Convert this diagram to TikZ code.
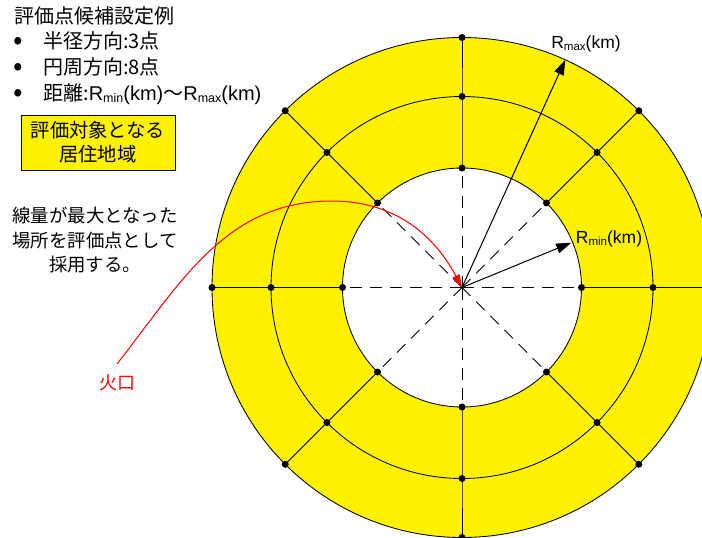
\documentclass[tikz,border=0pt]{standalone}
\usepackage{fontspec}
\setmainfont{Noto Sans CJK JP}
\newfontfamily\latfont{Liberation Sans}
\usetikzlibrary{arrows.meta,calc}
\newcommand\Rlab[1]{{\latfont R\raisebox{-2pt}{\fontsize{11.5}{12}\selectfont #1}(km)}}
\newcommand\Rlabb[1]{{\latfont R\raisebox{-2pt}{\fontsize{12.5}{13}\selectfont #1}(km)}}
\newcommand\bul{\makebox[29pt][l]{\hspace{-1pt}{\fontsize{28}{20}\selectfont\raisebox{-1pt}{•}}}}
\begin{document}
\begin{tikzpicture}[x=1pt,y=1pt,
  ring/.style={line width=0.85pt},
  spoke/.style={line width=0.85pt},
  dashspoke/.style={line width=0.85pt, dash pattern=on 12pt off 8pt},
  dot/.style={circle, fill=black, inner sep=0pt, minimum size=7pt},
  jtext/.style={font=\fontsize{20}{24}\selectfont, inner sep=0pt},
  rlabel/.style={font=\fontsize{17.5}{20}\selectfont, inner sep=0pt},
  radarrow/.style={line width=1pt, -{Triangle[length=15pt,width=10pt]}},
  redarrow/.style={red, line width=1pt, -{Triangle[length=13pt,width=8pt]}}
]
\useasboundingbox (0,0) rectangle (702,-538);
\clip (0,0) rectangle (702,-538);
\coordinate (C) at (462,-287.5);
\fill[yellow] (C) circle (250);
\fill[white] (C) circle (119.5);
\foreach \r in {250,191,119.5} \draw[ring] (C) circle (\r);
\foreach \a in {0,45,...,315} {
  \coordinate (i\a) at ($(C)+(\a:119.5)$);
  \coordinate (m\a) at ($(C)+(\a:191)$);
  \coordinate (o\a) at ($(C)+(\a:250)$);
  \draw[spoke] (i\a) -- (m\a) -- (o\a);
  \draw[dashspoke] (C) -- (i\a);
  \node[dot] (di\a) at (i\a) {};
  \node[dot] (dm\a) at (m\a) {};
  \node[dot] (do\a) at (o\a) {};
}
% radius arrows
\coordinate (rmaxtip) at ($(C)+(65.6:250)$);
\coordinate (rmintip) at ($(C)+(22.3:118)$);
\draw[radarrow] (C) -- (rmaxtip);
\draw[radarrow] (C) -- (rmintip);
\node[rlabel] (rmaxlab) at (586,-44) {\Rlab{max}};
\node[rlabel] (rminlab) at (609,-239) {\Rlab{min}};
% texts
\node[jtext, anchor=west] (title) at (14,-16) {評価点候補設定例};
\node[jtext, anchor=west] (item1) at (14,-41) {\bul 半径方向:3点};
\node[jtext, anchor=west] (item2) at (14,-67) {\bul 円周方向:8点};
\node[jtext, anchor=west] (item3) at (14,-94) {\bul 距離:\Rlabb{min}～\Rlabb{max}};
\node[jtext, draw, fill=yellow, line width=0.9pt, minimum width=154pt, minimum height=55pt, align=center, font=\fontsize{19.3}{24}\selectfont] (box) at (98,-142.5) {評価対象となる\\居住地域};
\node[jtext, align=center, font=\fontsize{18.4}{24.5}\selectfont] (note) at (95,-240) {線量が最大となった\\場所を評価点として\\採用する。};
\node[text=red, font=\fontsize{18}{20}\selectfont, inner sep=0pt] (kako) at (117,-383) {火口};
\coordinate (s) at (117,-364);
\coordinate (peak) at (332,-201);
\draw[redarrow] (s) to[out=52,in=180] (peak) to[out=0,in=118] (C);
\end{tikzpicture}
\end{document}
